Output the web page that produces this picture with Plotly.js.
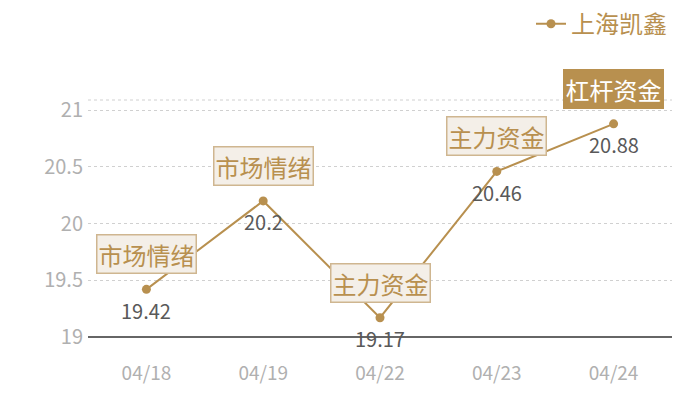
<!DOCTYPE html>
<html><head><meta charset="utf-8">
<script src="https://cdn.plot.ly/plotly-3.0.1.min.js"></script>
<style>html,body{margin:0;padding:0;background:#fff}#c{width:700px;height:400px}</style>
</head><body><div id="c"></div>
<script>
var dates = ['04/18','04/19','04/22','04/23','04/24'];
var prices = [19.42, 20.2, 19.17, 20.46, 20.88];
var tags = ['市场情绪','市场情绪','主力资金','主力资金','杠杆资金'];
var highlight = [false,false,false,false,true];
var seriesName = '上海凯鑫';

var gold = '#b8904f';
var font = '"Noto Sans CJK SC", "Open Sans", sans-serif';

var trace = {
  x: dates, y: prices, name: seriesName, type: 'scatter',
  mode: 'lines+markers',
  line: {color: gold, width: 2},
  marker: {color: gold, size: 9},
  showlegend: true,
  cliponaxis: false
};

var valueLabels = dates.map(function(d, i){
  return {
    x: d, y: prices[i], xref: 'x', yref: 'y',
    text: String(prices[i]), showarrow: false, yshift: -21,
    font: {size: 20, color: '#595959', family: font}
  };
});

var tagLabels = dates.map(function(d, i){
  return {
    x: d, y: prices[i], xref: 'x', yref: 'y',
    text: tags[i], showarrow: false, yshift: 35,
    font: {size: 24, color: highlight[i] ? '#fff' : gold, family: font},
    bgcolor: highlight[i] ? gold : '#f4efe8',
    bordercolor: highlight[i] ? gold : '#cfb690',
    borderwidth: 1.5, borderpad: 1
  };
});

var layout = {
  width: 700, height: 400,
  margin: {l: 88, r: 28, t: 100, b: 63, autoexpand: false},
  paper_bgcolor: '#fff', plot_bgcolor: '#fff',
  font: {family: font},
  xaxis: {
    type: 'category', range: [-0.5, 4.5],
    showgrid: false, showline: false, zeroline: false,
    ticks: '', tickfont: {size: 19, color: '#b0b0b0', family: font},
    ticklabelstandoff: 23
  },
  yaxis: {
    range: [19, 21.09], tickvals: [19, 19.5, 20, 20.5, 21],
    ticktext: ['19','19.5','20','20.5','21'],
    showgrid: true, gridcolor: '#d0d0d0', griddash: 'dot', gridwidth: 1,
    zeroline: false, showline: false, ticks: '',
    tickfont: {size: 20, color: '#b0b0b0', family: font},
    ticklabelstandoff: 4
  },
  shapes: [
    {type: 'line', xref: 'paper', yref: 'paper', x0: 0, x1: 1, y0: 0, y1: 0,
     line: {color: '#333', width: 1.5}},
    {type: 'line', xref: 'paper', yref: 'paper', x0: 0, x1: 1, y0: 1, y1: 1,
     line: {color: '#d0d0d0', width: 1, dash: 'dot'}}
  ],
  legend: {
    x: 1, xanchor: 'right', y: 1.415, yanchor: 'top',
    font: {size: 24, color: gold, family: font},
    bgcolor: 'rgba(0,0,0,0)', itemwidth: 30
  },
  annotations: valueLabels.concat(tagLabels)
};

Plotly.newPlot('c', [trace], layout, {displayModeBar: false, staticPlot: true});
</script>
</body></html>
